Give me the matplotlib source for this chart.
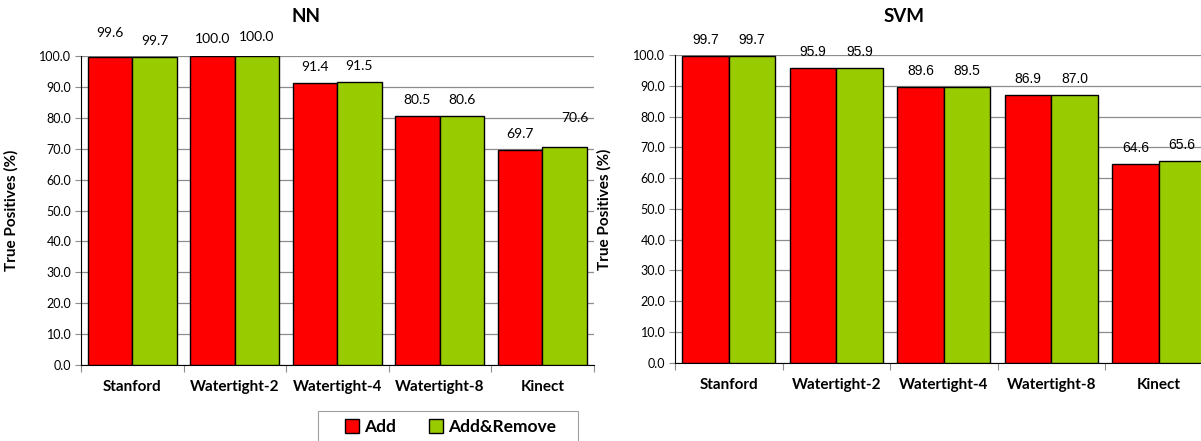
import matplotlib
matplotlib.use("Agg")
from matplotlib import pyplot as plt
from matplotlib.patches import Patch, Rectangle

categories = ["Stanford", "Watertight-2", "Watertight-4", "Watertight-8", "Kinect"]
nn_add = [99.6, 100.0, 91.4, 80.5, 69.7]
nn_add_remove = [99.7, 100.0, 91.5, 80.6, 70.6]
svm_add = [99.7, 95.9, 89.6, 86.9, 64.6]
svm_add_remove = [99.7, 95.9, 89.5, 87.0, 65.6]
series_names = ["Add", "Add&Remove"]
yticks = [0, 10, 20, 30, 40, 50, 60, 70, 80, 90, 100]

RED = "#FF0000"
GREEN = "#99CC00"
CAL = ["Lato", "DejaVu Sans"]
ARIAL = ["Liberation Sans", "DejaVu Sans"]

# extra label shifts (dx px, dy px) where Excel put labels oddly
nn_shift = {(0, 0): (0, 8), (1, 0): (0, 1), (1, 1): (0, 3), (4, 1): (10, 13)}

fig = plt.figure(figsize=(12.01, 4.41), dpi=100)
ax1 = fig.add_axes([81 / 1201, 1 - 365 / 441, 512.5 / 1201, 309 / 441])
ax2 = fig.add_axes([675 / 1201, 1 - 362.7 / 441, 537.5 / 1201, 307.7 / 441])


def draw(ax, a, b, label_font, shifts):
    w = 0.433
    for i in range(len(categories)):
        ax.bar(i + 0.5 - w, a[i], width=w, align="edge", color=RED,
               edgecolor="black", linewidth=1.0, zorder=3)
        ax.bar(i + 0.5, b[i], width=w, align="edge", color=GREEN,
               edgecolor="black", linewidth=1.0, zorder=3)
        for j, v in enumerate((a[i], b[i])):
            dx, dy = shifts.get((i, j), (0, 0))
            xc = i + 0.5 - w / 2 if j == 0 else i + 0.5 + w / 2
            ax.annotate(f"{v:.1f}", (xc, v), xytext=(dx * 0.72, (16 + dy) * 0.72),
                        textcoords="offset points", ha="center", va="center",
                        fontsize=10, family=label_font, annotation_clip=False)
    ax.set_xlim(0, 5)
    ax.set_ylim(0, 100)
    ax.set_yticks(yticks)
    ax.set_yticklabels([f"{t:.1f}" for t in yticks], fontsize=9, family=CAL)
    ax.yaxis.grid(True, color="#8c8c8c", linewidth=0.9, zorder=0)
    ax.set_xticks(range(6))
    ax.set_xticklabels([])
    ax.set_xticks([i + 0.5 for i in range(5)], minor=True)
    ax.set_xticklabels(categories, minor=True, fontsize=11, fontweight="bold", family=CAL)
    ax.tick_params(axis="x", which="minor", length=0, pad=11)
    ax.tick_params(axis="x", which="major", length=5, color="#8c8c8c")
    ax.tick_params(axis="y", length=4, color="#8c8c8c", pad=3)
    for s in ("top", "right"):
        ax.spines[s].set_visible(False)
    ax.spines["left"].set_color("black")
    ax.spines["bottom"].set_color("black")
    ax.set_ylabel("True Positives (%)", fontsize=11, fontweight="bold", family=CAL)


draw(ax1, nn_add, nn_add_remove, CAL, nn_shift)
draw(ax2, svm_add, svm_add_remove, ARIAL, {})
ax1.yaxis.set_label_coords(-62 / 512.5, 0.5)
ax2.yaxis.set_label_coords(-63 / 537.5, 0.5)

fig.text(306 / 1201, 1 - 16 / 441, "NN", ha="center", va="center",
         fontsize=13.5, fontweight="bold", family=CAL)
fig.text(904 / 1201, 1 - 16 / 441, "SVM", ha="center", va="center",
         fontsize=13.5, fontweight="bold", family=CAL)

# legend box, wider than matplotlib's own frame (Excel style)
fig.add_artist(Rectangle((318 / 1201, -0.02), 260 / 1201, 1 - 411 / 441 + 0.02,
                         transform=fig.transFigure, facecolor="white",
                         edgecolor="#a0a0a0", linewidth=0.8))
handles = [Patch(facecolor=RED, edgecolor="black", label=series_names[0]),
           Patch(facecolor=GREEN, edgecolor="black", label=series_names[1])]
leg = fig.legend(handles=handles, loc="center", bbox_to_anchor=(451 / 1201, 1 - 427 / 441),
                 ncol=2, frameon=False,
                 prop={"family": CAL, "weight": "bold", "size": 12.5},
                 handlelength=0.8, handleheight=0.8, handletextpad=0.3,
                 columnspacing=1.9, borderpad=0.0, borderaxespad=0)

fig.savefig("out.png", dpi=100)
